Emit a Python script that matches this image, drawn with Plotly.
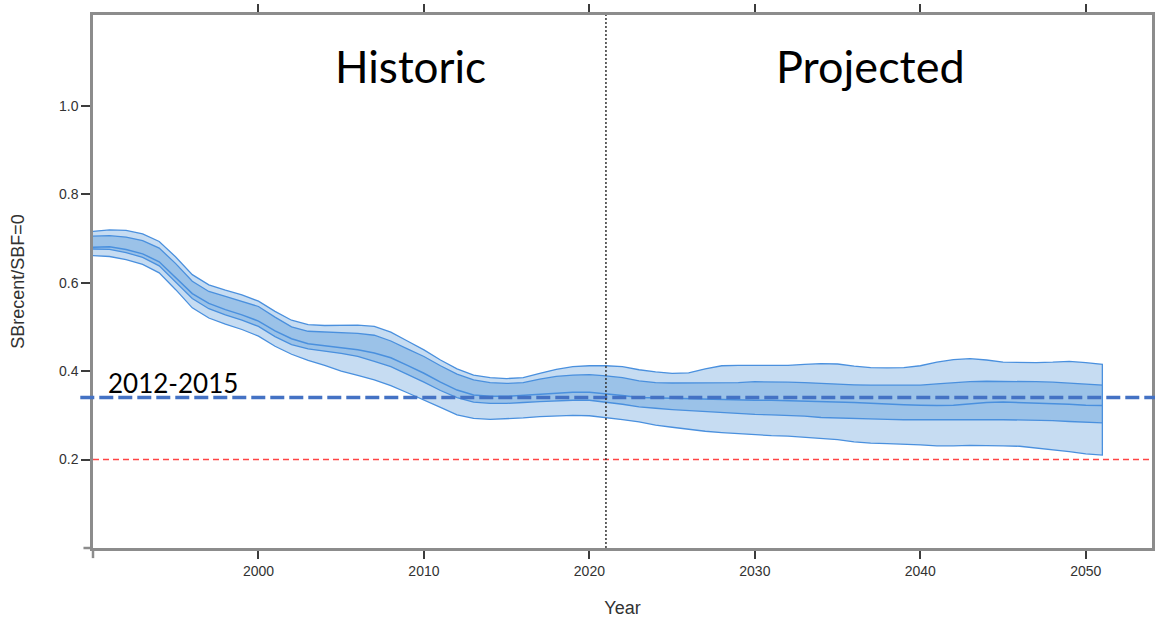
import plotly.graph_objects as go

# Spawning biomass depletion (SBrecent/SBF=0) by year, with 50% and 80% bands
years = list(range(1990, 2052))

outer_upper = [0.716, 0.719, 0.718, 0.710, 0.693, 0.658, 0.618, 0.595, 0.583, 0.572,
               0.558, 0.535, 0.515, 0.505, 0.503, 0.504, 0.504, 0.501, 0.488, 0.468,
               0.448, 0.425, 0.405, 0.391, 0.385, 0.383, 0.385, 0.395, 0.404, 0.410,
               0.412, 0.412, 0.410, 0.403, 0.398, 0.395, 0.396, 0.405, 0.412, 0.413,
               0.413, 0.413, 0.413, 0.415, 0.417, 0.416, 0.411, 0.408, 0.407, 0.408,
               0.412, 0.420, 0.426, 0.428, 0.425, 0.420, 0.419, 0.419, 0.420, 0.422,
               0.419, 0.415]
inner_upper = [0.705, 0.706, 0.703, 0.695, 0.678, 0.643, 0.603, 0.580, 0.569, 0.558,
               0.546, 0.522, 0.500, 0.490, 0.488, 0.487, 0.485, 0.481, 0.468, 0.450,
               0.433, 0.412, 0.393, 0.380, 0.374, 0.372, 0.374, 0.382, 0.388, 0.391,
               0.392, 0.389, 0.385, 0.378, 0.374, 0.373, 0.373, 0.373, 0.373, 0.374,
               0.376, 0.376, 0.375, 0.374, 0.372, 0.371, 0.369, 0.368, 0.368, 0.367,
               0.368, 0.371, 0.374, 0.376, 0.377, 0.377, 0.377, 0.376, 0.375, 0.373,
               0.370, 0.368]
median = [0.680, 0.681, 0.675, 0.665, 0.647, 0.612, 0.575, 0.553, 0.539, 0.527,
          0.513, 0.491, 0.473, 0.462, 0.457, 0.452, 0.448, 0.441, 0.430, 0.413,
          0.395, 0.375, 0.357, 0.346, 0.343, 0.343, 0.345, 0.348, 0.350, 0.352,
          0.352, 0.349, 0.345, 0.340, 0.339, 0.338, 0.338, 0.337, 0.336, 0.335,
          0.334, 0.334, 0.333, 0.333, 0.332, 0.331, 0.329, 0.327, 0.325, 0.324,
          0.323, 0.322, 0.323, 0.326, 0.329, 0.330, 0.329, 0.328, 0.327, 0.325,
          0.323, 0.322]
inner_lower = [0.676, 0.675, 0.668, 0.657, 0.638, 0.602, 0.564, 0.541, 0.527, 0.515,
               0.501, 0.478, 0.460, 0.450, 0.445, 0.440, 0.433, 0.422, 0.410, 0.393,
               0.375, 0.356, 0.340, 0.330, 0.327, 0.327, 0.329, 0.331, 0.333, 0.334,
               0.334, 0.330, 0.325, 0.319, 0.316, 0.313, 0.311, 0.308, 0.306, 0.304,
               0.302, 0.301, 0.300, 0.298, 0.295, 0.294, 0.293, 0.292, 0.291, 0.290,
               0.289, 0.289, 0.289, 0.290, 0.290, 0.290, 0.290, 0.289, 0.288, 0.286,
               0.284, 0.283]
outer_lower = [0.661, 0.659, 0.652, 0.641, 0.622, 0.584, 0.543, 0.520, 0.506, 0.494,
               0.479, 0.456, 0.438, 0.424, 0.413, 0.400, 0.390, 0.380, 0.367, 0.351,
               0.335, 0.318, 0.301, 0.293, 0.291, 0.292, 0.294, 0.297, 0.299, 0.300,
               0.299, 0.295, 0.290, 0.285, 0.278, 0.273, 0.268, 0.264, 0.261, 0.258,
               0.256, 0.254, 0.253, 0.251, 0.248, 0.245, 0.240, 0.237, 0.236, 0.235,
               0.233, 0.231, 0.231, 0.232, 0.232, 0.231, 0.230, 0.226, 0.222, 0.218,
               0.213, 0.210]

x_ticks = [2000, 2010, 2020, 2030, 2040, 2050]
y_ticks = [0.2, 0.4, 0.6, 0.8, 1.0]
y_tick_text = ["0.2", "0.4", "0.6", "0.8", "1.0"]

reference_level = 0.34     # 2012-2015 average depletion
limit_level = 0.2          # limit reference point
projection_start = 2021

x_range = [1990, 2054]
y_range = [0, 1.205]

edge = "rgb(74,144,222)"
light_fill = "rgb(198,220,242)"
dark_fill = "rgb(155,194,232)"
axis_grey = "rgb(140,140,140)"

fig = go.Figure()

fig.add_trace(go.Scatter(
    x=years + years[::-1], y=outer_upper + outer_lower[::-1],
    fill="toself", fillcolor=light_fill, mode="lines",
    line=dict(color=edge, width=1.3),
    hoverinfo="skip", showlegend=False))
fig.add_trace(go.Scatter(
    x=years + years[::-1], y=inner_upper + inner_lower[::-1],
    fill="toself", fillcolor=dark_fill, mode="lines",
    line=dict(color=edge, width=1.3),
    hoverinfo="skip", showlegend=False))
fig.add_trace(go.Scatter(
    x=years, y=median, mode="lines",
    line=dict(color=edge, width=1.5),
    showlegend=False))

shapes = [
    # limit reference point
    dict(type="line", xref="paper", yref="y", x0=0, x1=1, y0=limit_level, y1=limit_level,
         line=dict(color="rgb(255,70,70)", width=1.5, dash="6px,4px")),
    # 2012-2015 reference level
    dict(type="line", xref="paper", yref="y", x0=-0.012, x1=1.004,
         y0=reference_level, y1=reference_level,
         line=dict(color="rgb(68,114,196)", width=3.5, dash="14px,5px")),
    # start of projection period
    dict(type="line", xref="x", yref="paper", x0=projection_start, x1=projection_start,
         y0=0, y1=1, line=dict(color="rgb(50,50,50)", width=1.5, dash="2px,2px")),
    # axis overshoot at the lower-left corner
    dict(type="line", xref="paper", yref="paper", x0=-0.009, x1=0, y0=0, y1=0,
         line=dict(color=axis_grey, width=2.5)),
    dict(type="line", xref="paper", yref="paper", x0=0, x1=0, y0=-0.019, y1=0,
         line=dict(color=axis_grey, width=2.5)),
]

annotations = [
    dict(text="Historic", x=2009.2, y=1.09, xref="x", yref="y", showarrow=False,
         font=dict(family="Lato", size=44, color="black")),
    dict(text="Projected", x=2037.0, y=1.09, xref="x", yref="y", showarrow=False,
         font=dict(family="Lato", size=45, color="black")),
    dict(text="2012-2015", x=1990.8, y=reference_level, xref="x", yref="y",
         xanchor="left", yanchor="bottom", yshift=-3, showarrow=False,
         font=dict(family="Lato", size=26, color="black")),
]

fig.update_layout(
    width=1155, height=621,
    margin=dict(l=93, r=3, t=15, b=73, autoexpand=False),
    paper_bgcolor="white", plot_bgcolor="white",
    shapes=shapes, annotations=annotations,
    font=dict(family="Liberation Sans", color="rgb(50,50,50)"),
    xaxis=dict(range=x_range, tickvals=x_ticks, ticks="outside", ticklen=8,
               tickwidth=1.5, tickcolor="rgb(60,60,60)", showgrid=False, zeroline=False,
               showline=True, linecolor=axis_grey, linewidth=2.5, mirror="ticks",
               automargin=False,
               tickfont=dict(size=14, color="rgb(50,50,50)"),
               title=dict(text="Year", font=dict(size=18, color="rgb(50,50,50)"), standoff=24)),
    yaxis=dict(range=y_range, tickvals=y_ticks, ticktext=y_tick_text, ticks="outside",
               ticklen=9, tickwidth=1.5, tickcolor="rgb(60,60,60)", showgrid=False,
               zeroline=False, showline=True, linecolor=axis_grey, linewidth=2.5,
               mirror="ticks", automargin=False, tickfont=dict(size=14, color="rgb(50,50,50)"),
               title=dict(text="SBrecent/SBF=0", font=dict(size=18, color="rgb(50,50,50)"),
                          standoff=30)),
)

fig.write_html("out.html")
